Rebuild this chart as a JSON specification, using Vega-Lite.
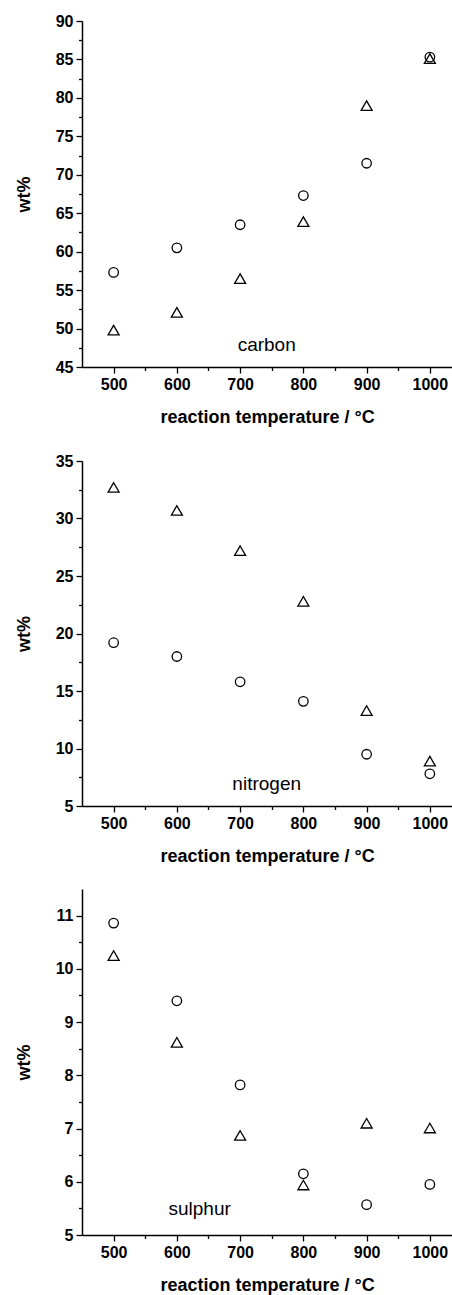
{
  "$schema": "https://vega.github.io/schema/vega-lite/v6.json",
  "padding": {"left": 15, "top": 13, "right": 0, "bottom": 3},
  "spacing": 27,
  "background": "white",
  "config": {
    "font": "Liberation Sans",
    "view": {"stroke": null},
    "axis": {
      "grid": false,
      "domainColor": "black",
      "domainWidth": 1.5,
      "tickColor": "black",
      "tickWidth": 1.3,
      "labelFont": "Liberation Sans",
      "labelFontWeight": "bold",
      "labelFontSize": 16,
      "labelColor": "black",
      "labelOverlap": false,
      "labelPadding": 3,
      "titleFont": "Liberation Sans",
      "titleFontWeight": "bold",
      "titleFontSize": 18,
      "titleColor": "black"
    }
  },
  "datasets": {
    "points": [
      {"element": "carbon", "temperature": 500, "series": "circle", "wt": 57.3},
      {"element": "carbon", "temperature": 600, "series": "circle", "wt": 60.5},
      {"element": "carbon", "temperature": 700, "series": "circle", "wt": 63.5},
      {"element": "carbon", "temperature": 800, "series": "circle", "wt": 67.3},
      {"element": "carbon", "temperature": 900, "series": "circle", "wt": 71.5},
      {"element": "carbon", "temperature": 1000, "series": "circle", "wt": 85.3},
      {"element": "carbon", "temperature": 500, "series": "triangle", "wt": 49.8},
      {"element": "carbon", "temperature": 600, "series": "triangle", "wt": 52.1},
      {"element": "carbon", "temperature": 700, "series": "triangle", "wt": 56.5},
      {"element": "carbon", "temperature": 800, "series": "triangle", "wt": 63.9},
      {"element": "carbon", "temperature": 900, "series": "triangle", "wt": 79.0},
      {"element": "carbon", "temperature": 1000, "series": "triangle", "wt": 85.1},
      {"element": "nitrogen", "temperature": 500, "series": "circle", "wt": 19.2},
      {"element": "nitrogen", "temperature": 600, "series": "circle", "wt": 18.0},
      {"element": "nitrogen", "temperature": 700, "series": "circle", "wt": 15.8},
      {"element": "nitrogen", "temperature": 800, "series": "circle", "wt": 14.1},
      {"element": "nitrogen", "temperature": 900, "series": "circle", "wt": 9.5},
      {"element": "nitrogen", "temperature": 1000, "series": "circle", "wt": 7.8},
      {"element": "nitrogen", "temperature": 500, "series": "triangle", "wt": 32.7},
      {"element": "nitrogen", "temperature": 600, "series": "triangle", "wt": 30.7},
      {"element": "nitrogen", "temperature": 700, "series": "triangle", "wt": 27.2},
      {"element": "nitrogen", "temperature": 800, "series": "triangle", "wt": 22.8},
      {"element": "nitrogen", "temperature": 900, "series": "triangle", "wt": 13.3},
      {"element": "nitrogen", "temperature": 1000, "series": "triangle", "wt": 8.9},
      {"element": "sulphur", "temperature": 500, "series": "circle", "wt": 10.86},
      {"element": "sulphur", "temperature": 600, "series": "circle", "wt": 9.4},
      {"element": "sulphur", "temperature": 700, "series": "circle", "wt": 7.82},
      {"element": "sulphur", "temperature": 800, "series": "circle", "wt": 6.15},
      {"element": "sulphur", "temperature": 900, "series": "circle", "wt": 5.57},
      {"element": "sulphur", "temperature": 1000, "series": "circle", "wt": 5.95},
      {"element": "sulphur", "temperature": 500, "series": "triangle", "wt": 10.25},
      {"element": "sulphur", "temperature": 600, "series": "triangle", "wt": 8.62},
      {"element": "sulphur", "temperature": 700, "series": "triangle", "wt": 6.87},
      {"element": "sulphur", "temperature": 800, "series": "triangle", "wt": 5.94},
      {"element": "sulphur", "temperature": 900, "series": "triangle", "wt": 7.1},
      {"element": "sulphur", "temperature": 1000, "series": "triangle", "wt": 7.01}
    ],
    "labels": [
      {"element": "carbon", "temperature": 742, "wt": 47.8},
      {"element": "nitrogen", "temperature": 742, "wt": 6.95},
      {"element": "sulphur", "temperature": 636, "wt": 5.48}
    ]
  },
  "vconcat": [
    {
      "width": 370,
      "height": 346,
      "resolve": {"axis": {"x": "independent", "y": "independent"}},
      "layer": [
        {
          "data": {"name": "points"},
          "transform": [{"filter": "datum.element === 'carbon'"}],
          "mark": {"type": "point", "filled": false, "stroke": "black", "strokeWidth": 1.3, "opacity": 1},
          "encoding": {
            "x": {"field": "temperature", "type": "quantitative", "scale": {"domain": [450, 1035], "nice": false, "zero": false},
              "axis": {"orient": "bottom", "title": "reaction temperature / °C", "titlePadding": 16, "labelOverlap": false, "values": [500, 600, 700, 800, 900, 1000], "format": "d", "tickSize": 6}},
            "y": {"field": "wt", "type": "quantitative", "scale": {"domain": [45, 90], "nice": false, "zero": false},
              "axis": {"orient": "left", "title": "wt%", "titlePadding": 22, "labelOverlap": false, "values": [45, 50, 55, 60, 65, 70, 75, 80, 85, 90], "format": "d", "tickSize": 6}},
            "shape": {"field": "series", "type": "nominal", "scale": {"domain": ["circle", "triangle"], "range": ["circle", "triangle-up"]}, "legend": null},
            "size": {"field": "series", "type": "nominal", "scale": {"domain": ["circle", "triangle"], "range": [90, 121]}, "legend": null}
          }
        },
        {
          "data": {"name": "labels"},
          "transform": [{"filter": "datum.element === 'carbon'"}],
          "mark": {"type": "text", "fontSize": 19, "align": "center", "baseline": "middle", "color": "black"},
          "encoding": {
            "x": {"field": "temperature", "type": "quantitative", "scale": {"domain": [450, 1035], "nice": false, "zero": false},
              "axis": {"orient": "bottom", "title": null, "labels": false, "domain": false, "values": [550, 650, 750, 850, 950], "tickSize": 3.5}},
            "y": {"field": "wt", "type": "quantitative", "scale": {"domain": [45, 90], "nice": false, "zero": false},
              "axis": {"orient": "left", "title": null, "labels": false, "domain": false, "values": [47.5, 52.5, 57.5, 62.5, 67.5, 72.5, 77.5, 82.5, 87.5], "tickSize": 3.5}},
            "text": {"field": "element"}
          }
        }
      ]
    },
    {
      "spacing": 24,
      "vconcat": [
        {
          "width": 370,
          "height": 345,
          "resolve": {"axis": {"x": "independent", "y": "independent"}},
          "layer": [
            {
              "data": {"name": "points"},
              "transform": [{"filter": "datum.element === 'nitrogen'"}],
              "mark": {"type": "point", "filled": false, "stroke": "black", "strokeWidth": 1.3, "opacity": 1},
              "encoding": {
                "x": {"field": "temperature", "type": "quantitative", "scale": {"domain": [450, 1035], "nice": false, "zero": false},
                  "axis": {"orient": "bottom", "title": "reaction temperature / °C", "titlePadding": 16, "labelOverlap": false, "values": [500, 600, 700, 800, 900, 1000], "format": "d", "tickSize": 6}},
                "y": {"field": "wt", "type": "quantitative", "scale": {"domain": [5, 35], "nice": false, "zero": false},
                  "axis": {"orient": "left", "title": "wt%", "titlePadding": 22, "labelOverlap": false, "values": [5, 10, 15, 20, 25, 30, 35], "format": "d", "tickSize": 6}},
                "shape": {"field": "series", "type": "nominal", "scale": {"domain": ["circle", "triangle"], "range": ["circle", "triangle-up"]}, "legend": null},
                "size": {"field": "series", "type": "nominal", "scale": {"domain": ["circle", "triangle"], "range": [90, 121]}, "legend": null}
              }
            },
            {
              "data": {"name": "labels"},
              "transform": [{"filter": "datum.element === 'nitrogen'"}],
              "mark": {"type": "text", "fontSize": 19, "align": "center", "baseline": "middle", "color": "black"},
              "encoding": {
                "x": {"field": "temperature", "type": "quantitative", "scale": {"domain": [450, 1035], "nice": false, "zero": false},
                  "axis": {"orient": "bottom", "title": null, "labels": false, "domain": false, "values": [550, 650, 750, 850, 950], "tickSize": 3.5}},
                "y": {"field": "wt", "type": "quantitative", "scale": {"domain": [5, 35], "nice": false, "zero": false},
                  "axis": {"orient": "left", "title": null, "labels": false, "domain": false, "values": [7.5, 12.5, 17.5, 22.5, 27.5, 32.5], "tickSize": 3.5}},
                "text": {"field": "element"}
              }
            }
          ]
        },
        {
          "width": 370,
          "height": 346,
          "resolve": {"axis": {"x": "independent", "y": "independent"}},
          "layer": [
            {
              "data": {"name": "points"},
              "transform": [{"filter": "datum.element === 'sulphur'"}],
              "mark": {"type": "point", "filled": false, "stroke": "black", "strokeWidth": 1.3, "opacity": 1},
              "encoding": {
                "x": {"field": "temperature", "type": "quantitative", "scale": {"domain": [450, 1035], "nice": false, "zero": false},
                  "axis": {"orient": "bottom", "title": "reaction temperature / °C", "titlePadding": 16, "labelOverlap": false, "values": [500, 600, 700, 800, 900, 1000], "format": "d", "tickSize": 6}},
                "y": {"field": "wt", "type": "quantitative", "scale": {"domain": [5, 11.5], "nice": false, "zero": false},
                  "axis": {"orient": "left", "title": "wt%", "titlePadding": 22, "labelOverlap": false, "values": [5, 6, 7, 8, 9, 10, 11], "format": "d", "tickSize": 6}},
                "shape": {"field": "series", "type": "nominal", "scale": {"domain": ["circle", "triangle"], "range": ["circle", "triangle-up"]}, "legend": null},
                "size": {"field": "series", "type": "nominal", "scale": {"domain": ["circle", "triangle"], "range": [90, 121]}, "legend": null}
              }
            },
            {
              "data": {"name": "labels"},
              "transform": [{"filter": "datum.element === 'sulphur'"}],
              "mark": {"type": "text", "fontSize": 19, "align": "center", "baseline": "middle", "color": "black"},
              "encoding": {
                "x": {"field": "temperature", "type": "quantitative", "scale": {"domain": [450, 1035], "nice": false, "zero": false},
                  "axis": {"orient": "bottom", "title": null, "labels": false, "domain": false, "values": [550, 650, 750, 850, 950], "tickSize": 3.5}},
                "y": {"field": "wt", "type": "quantitative", "scale": {"domain": [5, 11.5], "nice": false, "zero": false},
                  "axis": {"orient": "left", "title": null, "labels": false, "domain": false, "values": [5.5, 6.5, 7.5, 8.5, 9.5, 10.5], "tickSize": 3.5}},
                "text": {"field": "element"}
              }
            }
          ]
        }
      ]
    }
  ]
}
